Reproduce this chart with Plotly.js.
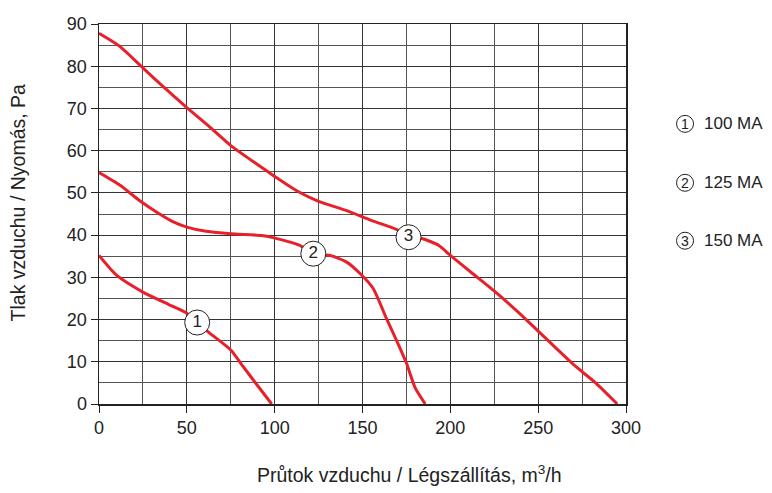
<!DOCTYPE html>
<html>
<head>
<meta charset="utf-8">
<script src="https://cdn.plot.ly/plotly-3.0.1.min.js"></script>
<style>html,body{margin:0;padding:0;background:#fff;}#chart{width:772px;height:493px;}</style>
</head>
<body>
<div id="chart"></div>
<script>
// Curve 1 : 100 MA
const flow1 = [0, 10, 25, 40, 50, 56, 63, 75, 82, 90, 98.3];
const pres1 = [35.2, 30.5, 26.5, 23.5, 21.5, 19.3, 16.8, 12.8, 8.9, 4.5, 0];
// Curve 2 : 125 MA
const flow2 = [0, 12, 23, 34.5, 42, 50, 61, 75, 92.6, 99, 114, 122, 131.5, 141, 148.6, 156, 164, 170, 175, 180, 185.7];
const pres2 = [54.8, 51.8, 48.2, 45, 43.2, 41.9, 40.9, 40.3, 39.9, 39.4, 37.6, 35.6, 35.2, 33.6, 30.9, 27.4, 19.9, 14.5, 9.7, 3.8, 0];
// Curve 3 : 150 MA
const flow3 = [0, 11.8, 25, 37.5, 50, 62.5, 75, 87.5, 100, 112.5, 125, 141, 155, 169.6, 176, 183.8, 193.3, 200, 213, 226.6, 238, 249.4, 260, 270.2, 283, 295];
const pres3 = [87.8, 84.7, 79.6, 74.8, 70.2, 65.8, 61.2, 57.5, 53.9, 50.5, 48.0, 45.8, 43.5, 41.3, 39.6, 39.2, 37.6, 35.2, 30.8, 26.2, 22.0, 17.5, 13.3, 9.3, 4.9, 0];
// Circled curve labels
const labelFlow = [55.9, 122, 176.2];
const labelPres = [19.3, 35.6, 39.5];
const labelText = ['1', '2', '3'];
// Legend
const legendNums = ['1', '2', '3'];
const legendNames = ['100 MA', '125 MA', '150 MA'];
const xTicks = [0, 50, 100, 150, 200, 250, 300];
const yTicks = [0, 10, 20, 30, 40, 50, 60, 70, 80, 90];

const FONT = 'Liberation Sans, Arial, sans-serif';
const NARROW = 'Liberation Sans Narrow, Arial Narrow, Liberation Sans, sans-serif';
const RED = '#e8202a';
const lineStyle = {color: RED, width: 3, shape: 'spline', smoothing: 0.6};

const traces = [
  {x: flow1, y: pres1, mode: 'lines', line: lineStyle, hoverinfo: 'skip'},
  {x: flow2, y: pres2, mode: 'lines', line: lineStyle, hoverinfo: 'skip'},
  {x: flow3, y: pres3, mode: 'lines', line: lineStyle, hoverinfo: 'skip'},
  {x: labelFlow, y: labelPres, text: labelText, mode: 'markers+text', textposition: 'middle center',
   marker: {symbol: 'circle', size: 25, color: '#fff', line: {color: '#222', width: 1}},
   textfont: {family: FONT, size: 17, color: '#222'}, cliponaxis: false, hoverinfo: 'skip'}
];

const legY = [124, 183, 241];
const shapes = [];
const annotations = [];
legendNums.forEach((n, i) => {
  const py = (404.5 - legY[i]) / 380.5;
  shapes.push({type: 'circle', xref: 'paper', yref: 'paper', xsizemode: 'pixel', ysizemode: 'pixel',
    xanchor: (685 - 99.3) / 526.7, yanchor: py, x0: -8.5, x1: 8.5, y0: -8.5, y1: 8.5,
    line: {color: '#222', width: 1}, fillcolor: '#fff'});
  annotations.push({xref: 'paper', yref: 'paper', x: (685 - 99.3) / 526.7, y: py, text: n, showarrow: false,
    xanchor: 'center', yanchor: 'middle', font: {family: FONT, size: 14, color: '#222'}});
  annotations.push({xref: 'paper', yref: 'paper', x: (702 - 99.3) / 526.7, y: py, text: legendNames[i], showarrow: false,
    xanchor: 'left', yanchor: 'middle', font: {family: NARROW, size: 17, color: '#222'}});
});
annotations.push({xref: 'paper', yref: 'paper', x: (410 - 99.3) / 526.7, y: (404.5 - 475) / 380.5,
  text: 'Průtok vzduchu / Légszállítás, m<sup>3</sup>/h', showarrow: false, xanchor: 'center', yanchor: 'middle',
  font: {family: FONT, size: 19.5, color: '#222'}});
annotations.push({xref: 'paper', yref: 'paper', x: (18 - 99.3) / 526.7, y: (404.5 - 203) / 380.5,
  text: 'Tlak vzduchu / Nyomás, Pa', showarrow: false, textangle: -90, xanchor: 'center', yanchor: 'middle',
  font: {family: FONT, size: 19.5, color: '#222'}});

const layout = {
  width: 772, height: 493,
  margin: {l: 99, r: 146, t: 24, b: 89, pad: 0},
  paper_bgcolor: '#fff', plot_bgcolor: '#fff',
  showlegend: false,
  font: {family: FONT, size: 18, color: '#222'},
  xaxis: {range: [0, 300], tickvals: xTicks, ticks: 'outside', ticklen: 7, tickcolor: '#222',
    showline: true, linecolor: '#222', linewidth: 1.5, mirror: true,
    showgrid: true, gridcolor: '#333', gridwidth: 1, zeroline: false,
    minor: {dtick: 25, tick0: 0, showgrid: true, gridcolor: '#555', gridwidth: 1, ticks: ''},
    tickfont: {family: FONT, size: 18, color: '#222'}, fixedrange: true},
  yaxis: {range: [0, 90], tickvals: yTicks, ticks: 'outside', ticklen: 7, tickcolor: '#222',
    showline: true, linecolor: '#222', linewidth: 1.5, mirror: true,
    showgrid: true, gridcolor: '#333', gridwidth: 1, zeroline: false,
    minor: {dtick: 5, tick0: 0, showgrid: true, gridcolor: '#555', gridwidth: 1, ticks: ''},
    tickfont: {family: FONT, size: 18, color: '#222'}, fixedrange: true},
  shapes: shapes,
  annotations: annotations
};

Plotly.newPlot('chart', traces, layout, {displayModeBar: false, staticPlot: true});
</script>
</body>
</html>
